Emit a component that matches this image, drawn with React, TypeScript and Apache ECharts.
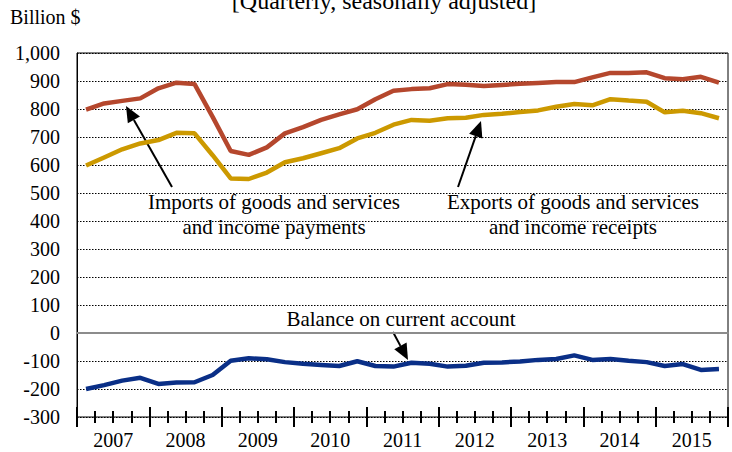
import React, { useEffect, useRef } from "react";
import * as echarts from "echarts";

const years = [2007, 2008, 2009, 2010, 2011, 2012, 2013, 2014, 2015];
const quarterNames = ["Q1", "Q2", "Q3", "Q4"];
const categories = years.flatMap((y) => quarterNames.map((q) => `${y} ${q}`));

const imports = [798, 820, 829, 838, 874, 894, 889, 772, 650, 636, 663, 713, 735, 761, 781, 799, 835, 865, 871, 874, 889, 887, 882, 886, 890, 893, 896, 896, 913, 929, 929, 931, 910, 906, 915, 894];
const exportsData = [598, 627, 656, 677, 689, 715, 713, 635, 552, 550, 573, 610, 624, 642, 660, 695, 715, 744, 761, 758, 767, 769, 779, 783, 789, 795, 808, 818, 813, 835, 830, 826, 788, 794, 785, 767];
const balance = [-200, -186, -170, -160, -182, -177, -176, -150, -99, -90, -94, -104, -110, -114, -118, -101, -118, -120, -106, -110, -120, -117, -106, -105, -102, -96, -93, -80, -96, -93, -99, -104, -118, -111, -132, -129];

const yTicks = { min: -300, max: 1000, interval: 100 };

const FONT = "Liberation Serif, Times New Roman, serif";

function arrow(tail: number[], tip: number[]) {
  const dx = tip[0] - tail[0];
  const dy = tip[1] - tail[1];
  const len = Math.sqrt(dx * dx + dy * dy);
  const ux = dx / len, uy = dy / len;
  const hl = 16, hw = 7;
  const bx = tip[0] - ux * hl, by = tip[1] - uy * hl;
  const nx = -uy, ny = ux;
  return [
    { type: "line", shape: { x1: tail[0], y1: tail[1], x2: bx, y2: by }, style: { stroke: "#000", lineWidth: 2 } },
    { type: "polygon", shape: { points: [tip, [bx + nx * hw, by + ny * hw], [bx - nx * hw, by - ny * hw]] }, style: { fill: "#000" } },
  ];
}

function txt(x: number, y: number, text: string, size: number, align = "center") {
  return {
    type: "text",
    x,
    y,
    style: { text, fill: "#000", fontFamily: FONT, fontSize: size, fontWeight: "normal", textAlign: align, textVerticalAlign: "middle" },
  };
}

const tickAxis = (interval: number, inside: boolean, length: number) => ({
  type: "value",
  position: "bottom",
  min: 0,
  max: 36,
  interval,
  axisLine: { show: false },
  splitLine: { show: false },
  axisLabel: { show: false },
  axisTick: { show: true, inside, length, lineStyle: { color: "#000", width: 2 } },
});

export default function App() {
  const ref = useRef<HTMLDivElement>(null);
  useEffect(() => {
    const chart = echarts.init(ref.current!, undefined, { renderer: "svg" });
    const option: any = {
      animation: false,
      backgroundColor: "#fff",
      grid: { left: 77, right: 4, top: 53, bottom: 35, show: true, borderColor: "#000", borderWidth: 1 },
      xAxis: [
        {
          type: "category",
          data: categories,
          boundaryGap: true,
          position: "bottom",
          axisLine: { show: true, lineStyle: { color: "#8c8c8c", width: 2 } },
          axisTick: { show: false },
          axisLabel: { show: false },
          splitLine: { show: false },
        },
        tickAxis(1, true, 6),
        tickAxis(1, false, 6),
        tickAxis(4, true, 10),
        tickAxis(4, false, 10),
        {
          type: "value",
          position: "bottom",
          min: 0,
          max: 36,
          interval: 2,
          axisLine: { show: false },
          axisTick: { show: false },
          splitLine: { show: false },
          axisLabel: {
            show: true,
            margin: 13,
            color: "#000",
            fontFamily: FONT,
            fontSize: 20,
            formatter: (v: number) => (v % 4 === 2 ? String(years[(v - 2) / 4]) : ""),
          },
        },
      ],
      yAxis: {
        type: "value",
        min: yTicks.min,
        max: yTicks.max,
        interval: yTicks.interval,
        axisLine: { show: true, lineStyle: { color: "#000", width: 1 } },
        axisTick: { show: false },
        axisLabel: {
          color: "#000",
          fontFamily: FONT,
          fontSize: 20,
          margin: 17,
          formatter: (v: number) => (Math.abs(v) >= 1000 ? v.toLocaleString("en-US") : String(v)),
        },
        splitLine: { show: true, lineStyle: { color: "#000", width: 1, type: [1.5, 1.5] } },
      },
      series: [
        { name: "Imports", type: "line", data: imports, symbol: "none", lineStyle: { color: "#B5472D", width: 4.5 }, itemStyle: { color: "#B5472D" } },
        { name: "Exports", type: "line", data: exportsData, symbol: "none", lineStyle: { color: "#CC9900", width: 4.5 }, itemStyle: { color: "#CC9900" } },
        { name: "Balance", type: "line", data: balance, symbol: "none", lineStyle: { color: "#0A2F87", width: 4.5 }, itemStyle: { color: "#0A2F87" } },
      ],
      graphic: [
        txt(384, 1, "[Quarterly, seasonally adjusted]", 24),
        txt(10, 17, "Billion $", 20, "left"),
        txt(274, 202, "Imports of goods and services", 21),
        txt(274, 227, "and income payments", 21),
        txt(573, 202, "Exports of goods and services", 21),
        txt(573, 227, "and income receipts", 21),
        txt(401, 319, "Balance on current account", 21),
        ...arrow([172, 187], [126, 106]),
        ...arrow([458, 187], [481, 121]),
        ...arrow([393, 332], [408, 360]),
      ],
    };
    chart.setOption(option);
    return () => chart.dispose();
  }, []);
  return <div ref={ref} style={{ position: "fixed", left: 0, top: 0, width: 732, height: 452 }} />;
}
